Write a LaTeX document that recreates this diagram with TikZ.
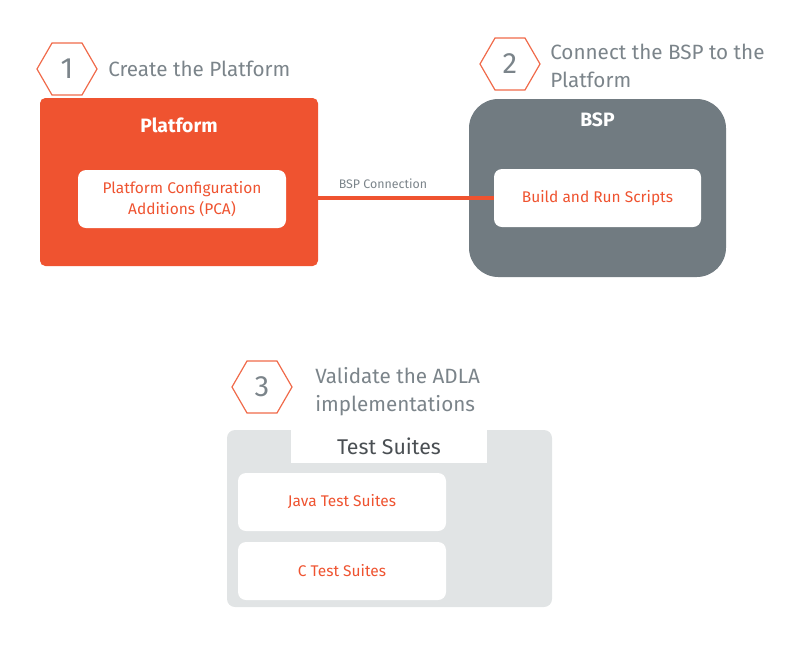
\documentclass[tikz,border=0pt]{standalone}
\usepackage{fontspec}
\setmainfont{Fira Sans}
\usepackage{xcolor}
\usepackage{tikz}
\usetikzlibrary{shapes.geometric}

\definecolor{accent}{HTML}{EF5330}
\definecolor{hexline}{HTML}{F06A4A}
\definecolor{slate}{HTML}{717B81}
\definecolor{caption}{HTML}{7B848A}
\definecolor{panel}{HTML}{E1E4E5}
\definecolor{ink}{HTML}{4A4F53}

\tikzset{
  hexmark/.style={draw=hexline,line width=0.9pt,regular polygon,regular polygon sides=6,
    minimum size=45pt,inner sep=0pt,text=caption,font=\fontsize{22}{22}\selectfont},
  heading/.style={anchor=north west,inner sep=0pt,align=left,text=caption,
    font=\fontsize{15.5}{21}\selectfont},
  item/.style={fill=white,rounded corners=6pt,text=accent,align=center,
    minimum width=156pt,minimum height=43.5pt,font=\fontsize{11.6}{15.5}\selectfont}
}

\begin{document}
\begin{tikzpicture}[x=0.75pt,y=-0.75pt]
\useasboundingbox (0,0) rectangle (807,669);
% step 1
\node[hexmark] (h1) at (67,69) {1};
\node[heading] (t1) at (108,61) {Create the Platform};
\node[fill=accent,rounded corners=4pt,minimum width=208.5pt,minimum height=126pt] (platform) at (179,182) {};
\node[text=white,font=\fontsize{14.5}{16}\selectfont\bfseries] (ptitle) at (179,125) {Platform};
\node[item] (pca) at (182,199) {Platform Configuration\\Additions (PCA)};
% step 2
\node[hexmark] (h2) at (510,64) {2};
\node[heading] (t2) at (550,44) {Connect the BSP to the\\Platform};
\node[fill=slate,rounded corners=22pt,minimum width=192.75pt,minimum height=133.5pt] (bsp) at (597.5,188) {};
\node[text=white,font=\fontsize{14.5}{16}\selectfont\bfseries] (btitle) at (597.5,120) {BSP};
\node[item,minimum width=155.25pt] (build) at (597.5,198) {Build and Run Scripts};
\draw[accent,line width=2.4pt] (platform.east |- build.west) -- (build.west);
\node[text=caption,font=\fontsize{9.3}{11}\selectfont] (conn) at (383,184) {BSP Connection};
% step 3
\node[hexmark] (h3) at (262,387) {3};
\node[heading] (t3) at (315,367) {Validate the ADLA\\implementations};
\node[fill=panel,rounded corners=6pt,minimum width=243.75pt,minimum height=132.75pt] (tests) at (389.5,518.5) {};
\node[fill=white,text=ink,minimum width=147pt,minimum height=24.75pt,font=\fontsize{16}{18}\selectfont] (tab) at (389,446.5) {Test Suites};
\node[item] (java) at (342,502) {Java Test Suites};
\node[item] (ctests) at (342,571) {C Test Suites};
\end{tikzpicture}
\end{document}
